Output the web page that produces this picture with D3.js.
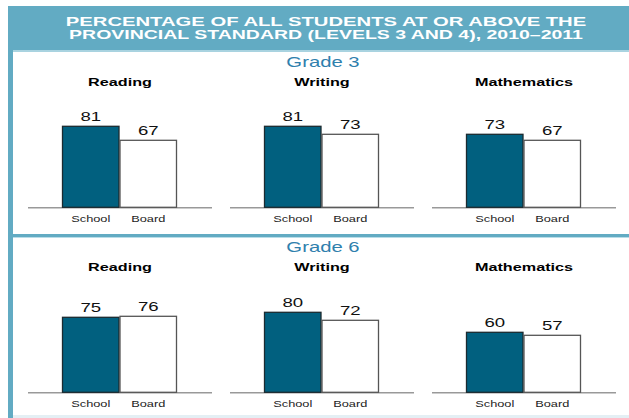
<!DOCTYPE html>
<html><head><meta charset="utf-8">
<script src="https://cdn.jsdelivr.net/npm/d3@7"></script>
<style>
html,body{margin:0;padding:0;background:#fff;}
svg{display:block;font-family:"Liberation Sans",Arial,sans-serif;}
</style></head>
<body>
<svg id="chart" width="629" height="418"></svg>
<script>
// ---- data ----
const titleLines = ["PERCENTAGE OF ALL STUDENTS AT OR ABOVE THE", "PROVINCIAL STANDARD (LEVELS 3 AND 4), 2010\u20132011"];
const grades = ["Grade 3", "Grade 6"];
const subjects = ["Reading", "Writing", "Mathematics"];
const groups = ["School", "Board"];
const grade3School = [81, 81, 73];
const grade3Board = [67, 73, 67];
const grade6School = [75, 80, 60];
const grade6Board = [76, 72, 57];

const gradeData = [
  {grade: grades[0], school: grade3School, board: grade3Board},
  {grade: grades[1], school: grade6School, board: grade6Board}
];

// ---- layout ----
const svg = d3.select("#chart");
const teal = "#62abc3";
const barDark = "#01607f";
const W = 629, H = 418;

// helper: horizontally stretched text
function sText(g, str, cx, y, size, weight, fill, stretch) {
  return g.append("text")
    .attr("transform", `translate(${cx},${y}) scale(${stretch},1)`)
    .attr("text-anchor", "middle")
    .attr("font-size", size)
    .attr("font-weight", weight)
    .attr("fill", fill)
    .text(str);
}

// frame
svg.append("rect").attr("x", 8).attr("y", 6).attr("width", W - 8).attr("height", 45).attr("fill", teal);
svg.append("rect").attr("x", 8).attr("y", 6).attr("width", 5).attr("height", H - 6).attr("fill", teal);
svg.append("rect").attr("x", 13).attr("y", 50).attr("width", W - 13).attr("height", 2).attr("fill", "#a9d3e0");
svg.append("rect").attr("x", 13).attr("y", 234).attr("width", W - 13).attr("height", 3).attr("fill", teal);
svg.append("rect").attr("x", 13).attr("y", 237).attr("width", W - 13).attr("height", 1).attr("fill", "#b9dde8");
svg.append("rect").attr("x", 13).attr("y", 415).attr("width", W - 13).attr("height", 3).attr("fill", "#e4eff4");

// header title
const hdr = svg.append("g");
[[titleLines[0], 25.5, 1.62], [titleLines[1], 38.7, 1.56]].forEach(([t, y, s]) => {
  sText(hdr, t, 326, y, 12.5, "bold", "#fff", s);
});

// scales
const x = d3.scaleBand().domain(subjects).range([19, 625]);
const xIn = d3.scaleBand().domain(groups).range([-58, 57]).padding(0);
const rowOffset = [0, 185];
const baseY = 207.3;

gradeData.forEach((gd, gi) => {
  const off = rowOffset[gi];
  const base = baseY + off;
  const y = d3.scaleLinear().domain([0, 100]).range([base, base - 100]);
  const row = svg.append("g");

  sText(row, gd.grade, 323, 67 + off, 14, "normal", "#2f80ad", 1.45);

  subjects.forEach((sub, si) => {
    const cx = x(sub) + x.bandwidth() / 2;
    const p = row.append("g").attr("transform", `translate(${cx},0)`);
    sText(p, sub, 0, 86.3 + off, 10, "bold", "#000", 1.62);

    // axis baseline
    p.append("line")
      .attr("x1", -92).attr("x2", 92)
      .attr("y1", base + 0.5).attr("y2", base + 0.5)
      .attr("stroke", "#999").attr("stroke-width", 1.5);

    const vals = [gd.school[si], gd.board[si]];
    groups.forEach((grp, k) => {
      const v = vals[k];
      p.append("rect")
        .attr("x", xIn(grp) + 0.5)
        .attr("y", y(v))
        .attr("width", xIn.bandwidth() - 1)
        .attr("height", y(0) - y(v))
        .attr("fill", k === 0 ? barDark : "#fff")
        .attr("stroke", k === 0 ? "#1c2b30" : "#555")
        .attr("stroke-width", 1.3);
      sText(p, String(v), xIn(grp) + xIn.bandwidth() / 2, y(v) - 5, 12, "normal", "#111", 1.55);
      sText(p, grp, xIn(grp) + xIn.bandwidth() / 2, base + 14.5, 9, "normal", "#222", 1.42);
    });
  });
});
</script>
</body></html>
